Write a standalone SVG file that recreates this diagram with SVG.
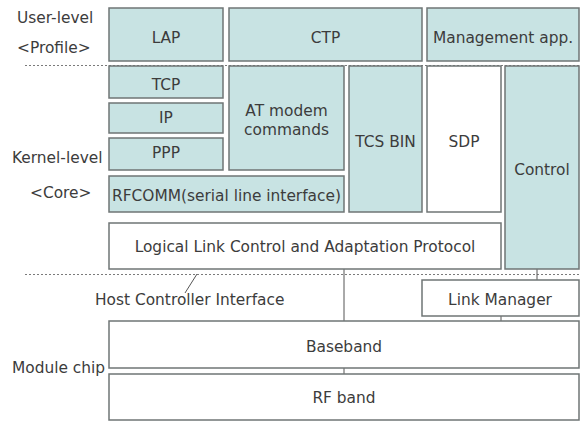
<svg xmlns="http://www.w3.org/2000/svg" width="583" height="421" viewBox="0 0 583 421">
<style>
.b{fill:#c8e3e3;stroke:#6f7575;stroke-width:1.5}
.w{fill:#ffffff;stroke:#6f7575;stroke-width:1.5}
text{font-family:"DejaVu Sans","Liberation Sans",sans-serif;font-size:15.4px;fill:#3c3c3c}
.c{text-anchor:middle}
.d{stroke:#7a7a7a;stroke-width:1;stroke-dasharray:2,2;fill:none}
.l{stroke:#555;stroke-width:1;fill:none}
</style>
<rect width="583" height="421" fill="#fff"/>
<g id="labels">
<text x="17" y="23">User-level</text>
<text x="17" y="53">&lt;Profile&gt;</text>
<text x="12" y="163">Kernel-level</text>
<text x="30" y="198">&lt;Core&gt;</text>
<text x="12" y="373">Module chip</text>
<text x="95" y="305">Host Controller Interface</text>
</g>
<g id="dividers">
<line class="d" x1="25" y1="65.5" x2="581" y2="65.5"/>
<line class="d" x1="25" y1="274.5" x2="581" y2="274.5"/>
</g>
<g id="connectors">
<line class="l" x1="344" y1="269" x2="344" y2="321"/>
<line class="l" x1="537" y1="269" x2="537" y2="280"/>
<line class="l" x1="501" y1="316" x2="501" y2="321"/>
<line class="l" x1="344" y1="368" x2="344" y2="374"/>
<line class="l" x1="197" y1="274" x2="185" y2="293"/>
</g>
<g id="lap"><rect class="b" x="109" y="8" width="114" height="53"/><text class="c" x="166" y="43">LAP</text></g>
<g id="ctp"><rect class="b" x="229" y="8" width="193" height="53"/><text class="c" x="325.5" y="43">CTP</text></g>
<g id="mgmt"><rect class="b" x="427" y="8" width="152" height="53"/><text class="c" x="503" y="43">Management app.</text></g>
<g id="tcp"><rect class="b" x="109" y="66" width="114" height="32"/><text class="c" x="166" y="90">TCP</text></g>
<g id="ip"><rect class="b" x="109" y="103" width="114" height="30"/><text class="c" x="166" y="123">IP</text></g>
<g id="ppp"><rect class="b" x="109" y="138" width="114" height="32"/><text class="c" x="166" y="158">PPP</text></g>
<g id="at"><rect class="b" x="229" y="66" width="115" height="104"/><text class="c" x="286.5" y="116">AT modem</text><text class="c" x="286.5" y="135">commands</text></g>
<g id="tcs"><rect class="b" x="349" y="66" width="73" height="146"/><text class="c" x="385.5" y="147">TCS BIN</text></g>
<g id="sdp"><rect class="w" x="427" y="66" width="74" height="146"/><text class="c" x="464" y="147">SDP</text></g>
<g id="control"><rect class="b" x="505" y="66" width="74" height="203"/><text class="c" x="542" y="175">Control</text></g>
<g id="rfcomm"><rect class="b" x="109" y="176" width="235" height="36"/><text class="c" x="226.5" y="201">RFCOMM(serial line interface)</text></g>
<g id="l2cap"><rect class="w" x="109" y="223" width="392" height="46"/><text class="c" x="305" y="252">Logical Link Control and Adaptation Protocol</text></g>
<g id="lm"><rect class="w" x="422" y="280" width="157" height="36"/><text class="c" x="500" y="305">Link Manager</text></g>
<g id="baseband"><rect class="w" x="109" y="321" width="470" height="47"/><text class="c" x="344" y="352">Baseband</text></g>
<g id="rf"><rect class="w" x="109" y="374" width="470" height="46"/><text class="c" x="344" y="403">RF band</text></g>
</svg>
